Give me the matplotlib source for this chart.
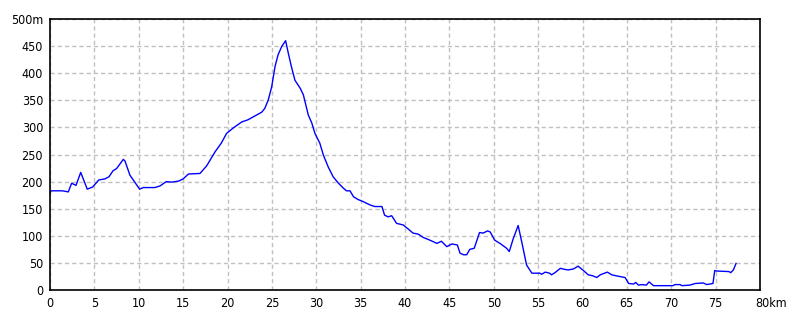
import matplotlib
matplotlib.use("Agg")
import matplotlib.pyplot as plt
import matplotlib.transforms as mtransforms

# distance (km) and elevation (m)
dist_km = [0.0, 0.1, 1.4, 2.06, 2.44, 2.93, 3.46, 4.2, 4.8, 5.5, 6.2, 6.65, 7.1, 7.5, 8.26, 8.45,
           9.0, 10.1, 10.5, 11.8, 12.4, 13.1, 13.7, 14.5, 15.0, 15.6, 16.9, 17.65, 18.6, 19.3, 19.9,
           20.65, 21.6, 22.3, 23.3, 23.85, 24.2, 24.6, 24.98, 25.35, 25.7, 26.1, 26.55, 26.85, 27.2,
           27.6, 28.2, 28.55, 29.1, 29.5, 29.85, 30.4, 30.8, 31.35, 31.9, 32.5, 33.05, 33.4, 33.8,
           34.2, 34.7, 35.3, 36.05, 36.6, 37.4, 37.7, 38.1, 38.5, 39.05, 39.8, 40.4, 40.9, 41.5,
           42.05, 42.8, 43.6, 44.1, 44.7, 45.3, 45.9, 46.2, 46.6, 46.95, 47.3, 47.8, 48.4, 48.8,
           49.3, 49.6, 50.1, 50.7, 51.45, 51.75, 52.2, 52.75, 53.15, 53.7, 54.3, 55.2, 55.4, 55.8,
           56.3, 56.5, 56.9, 57.5, 58.0, 58.4, 59.0, 59.5, 60.1, 60.65, 61.2, 61.6, 62.0, 62.8,
           63.3, 63.85, 64.8, 65.2, 65.75, 66.0, 66.3, 66.7, 67.2, 67.5, 68.0, 70.2, 70.4, 71.0,
           71.2, 72.1, 72.7, 73.6, 74.0, 74.7, 74.9, 75.1, 76.5, 76.7, 77.0, 77.3]
elev_m = [178, 183, 183, 181, 197, 193, 217, 186, 190, 203, 205, 209, 220, 224, 241, 238,
          212, 186, 189, 189, 192, 200, 199, 201, 205, 214, 215, 229, 255, 271, 289,
          299, 310, 314, 323, 328, 335, 351, 375, 412, 434, 449, 460, 437, 412,
          387, 372, 360, 323, 308, 289, 271, 249, 227, 209, 197, 188, 183, 183,
          172, 167, 163, 157, 154, 154, 138, 135, 137, 123, 120, 112, 105, 103,
          97, 92, 86, 90, 80, 85, 83, 68, 65, 65, 75, 77, 106, 105,
          109, 107, 92, 86, 77, 71, 95, 119, 89, 46, 31, 31, 29, 33,
          31, 28, 32, 40, 38, 37, 39, 44, 36, 28, 26, 23, 28, 33,
          28, 26, 23, 12, 11, 14, 9, 10, 9, 15, 8, 8, 10, 10,
          8, 9, 12, 13, 10, 12, 36, 35, 34, 32, 37, 49]

x_ticks = [0, 5, 10, 15, 20, 25, 30, 35, 40, 45, 50, 55, 60, 65, 70, 75, 80]
x_labels = ["0", "5", "10", "15", "20", "25", "30", "35", "40", "45", "50", "55", "60",
            "65", "70", "75", "80km"]
y_ticks = [0, 50, 100, 150, 200, 250, 300, 350, 400, 450, 500]
y_labels = ["0", "50", "100", "150", "200", "250", "300", "350", "400", "450", "500m"]

plt.rcParams['font.family'] = ['DejaVu Sans']
plt.rcParams['font.stretch'] = 'condensed'

fig = plt.figure(figsize=(8, 3.2), dpi=100)
ax = fig.add_axes([50 / 800, 1 - 290 / 320, 710 / 800, 271 / 320])

ax.plot(dist_km, elev_m, color="#0000ff", linewidth=1.0)

ax.set_xlim(0, 80)
ax.set_ylim(0, 500)
ax.set_xticks(x_ticks)
ax.set_xticklabels(x_labels)
ax.set_yticks(y_ticks)
ax.set_yticklabels(y_labels)
ax.tick_params(length=0, labelsize=9, pad=5, colors="black")
ax.grid(True, color="#c0c0c0", linestyle=(0, (3, 2.2)), linewidth=1.0)
ax.set_axisbelow(True)
for s in ax.spines.values():
    s.set_color("black")
    s.set_linewidth(1.2)

lbl = ax.get_xticklabels()[-1]
lbl.set_ha("left")
lbl.set_transform(lbl.get_transform() + mtransforms.ScaledTranslation(-5 / 100, 0, fig.dpi_scale_trans))

fig.savefig("out.png", dpi=100)
